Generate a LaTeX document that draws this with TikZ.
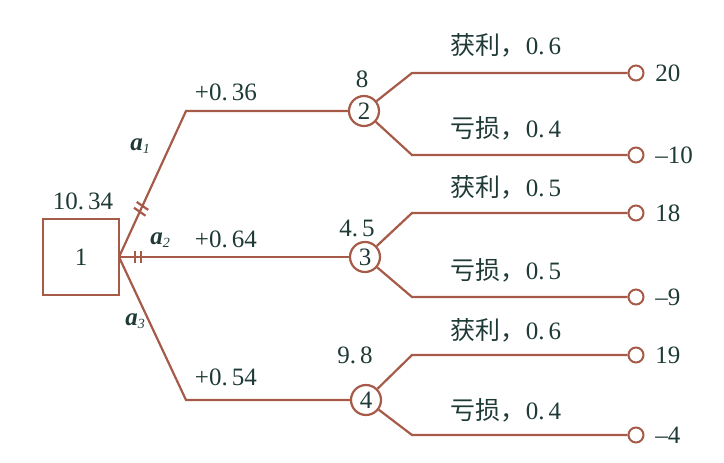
\documentclass[tikz,border=0pt]{standalone}
\usepackage{fontspec}
\setmainfont{Liberation Serif}
\newfontfamily\cjk{Noto Sans CJK SC}
\usetikzlibrary{calc}
\definecolor{ln}{HTML}{A65A48}
\definecolor{tx}{HTML}{1E3A36}
\newcommand{\actl}[1]{\textbf{\textit{a}}\raisebox{-0.3ex}{\scriptsize\textit{#1}}}
\begin{document}
\begin{tikzpicture}[x=0.5pt,y=-0.5pt,
  every node/.style={text=tx,font=\fontsize{12.5}{14}\selectfont},
  br/.style={draw=ln,line width=1.1pt},
  dec/.style={draw=ln,line width=1.1pt,minimum size=38pt,inner sep=0pt},
  chance/.style={draw=ln,line width=1.1pt,circle,minimum size=15pt,inner sep=0pt},
  term/.style={draw=ln,line width=1pt,circle,minimum size=7.5pt,inner sep=0pt,fill=white},
  val/.style={anchor=west,inner sep=0pt},
  lab/.style={inner sep=0pt},
  tick/.style={draw=ln,line width=1.1pt}]
\useasboundingbox (0,0) rectangle (724,462);
% decision node
\node[dec] (d1) at (81,257) {1};
\coordinate (j) at (119,257);
\node[lab] (v1) at (83,201) {10.\,34};
% chance nodes
\node[chance] (c2) at (364,111) {2};
\node[chance] (c3) at (365,257) {3};
\node[chance] (c4) at (366,400) {4};
\node[lab] (v2) at (362,79) {8};
\node[lab] (v3) at (357,228) {4.\,5};
\node[lab] (v4) at (355,355) {9.\,8};
% bends
\coordinate (b1) at (186,111);
\coordinate (b3) at (186,400);
\draw[br] (j) -- (b1) -- (c2);
\draw[br] (j) -- (c3);
\draw[br] (j) -- (b3) -- (c4);
% ticks
\path (j) -- (b1) coordinate[pos=0.31] (m1) coordinate[pos=0.35] (m2);
\draw[tick] ($(m1)!3.5pt!80:(b1)$) -- ($(m1)!3.5pt!-100:(b1)$);
\draw[tick] ($(m2)!3.5pt!80:(b1)$) -- ($(m2)!3.5pt!-100:(b1)$);
\path (j) -- (c3) coordinate[pos=0.07] (m3) coordinate[pos=0.095] (m4);
\draw[tick] ($(m3)+(0,-6)$) -- ($(m3)+(0,6)$);
\draw[tick] ($(m4)+(0,-6)$) -- ($(m4)+(0,6)$);
% action labels
\node[lab] (a1) at (140,146) {\actl{1}};
\node[lab] (a2) at (160,240) {\actl{2}};
\node[lab] (a3) at (135,321) {\actl{3}};
\node[lab] (e1) at (226,92) {+0.\,36};
\node[lab] (e2) at (226,239) {+0.\,64};
\node[lab] (e3) at (226,377) {+0.\,54};
% outcome branches
\foreach \c/\k/\y/\n in {c2/k1/73/t1, c2/k2/155/t2, c3/k3/213/t3, c3/k4/297/t4, c4/k5/355/t5, c4/k6/435/t6}{
  \coordinate (\k) at (412,\y);
  \node[term] (\n) at (636,\y) {};
  \draw[br] (\c) -- (\k) -- (\n);
}
\node[val] (r1) at (655,73) {20};
\node[val] (r2) at (655,155) {--10};
\node[val] (r3) at (655,213) {18};
\node[val] (r4) at (655,297) {--9};
\node[val] (r5) at (655,355) {19};
\node[val] (r6) at (655,435) {--4};
% probabilities
\node[lab] (p1) at (506,45) {{\cjk 获利，}0.\,6};
\node[lab] (p2) at (506,128) {{\cjk 亏损，}0.\,4};
\node[lab] (p3) at (506,187) {{\cjk 获利，}0.\,5};
\node[lab] (p4) at (506,270) {{\cjk 亏损，}0.\,5};
\node[lab] (p5) at (506,330) {{\cjk 获利，}0.\,6};
\node[lab] (p6) at (506,410) {{\cjk 亏损，}0.\,4};
\end{tikzpicture}
\end{document}
